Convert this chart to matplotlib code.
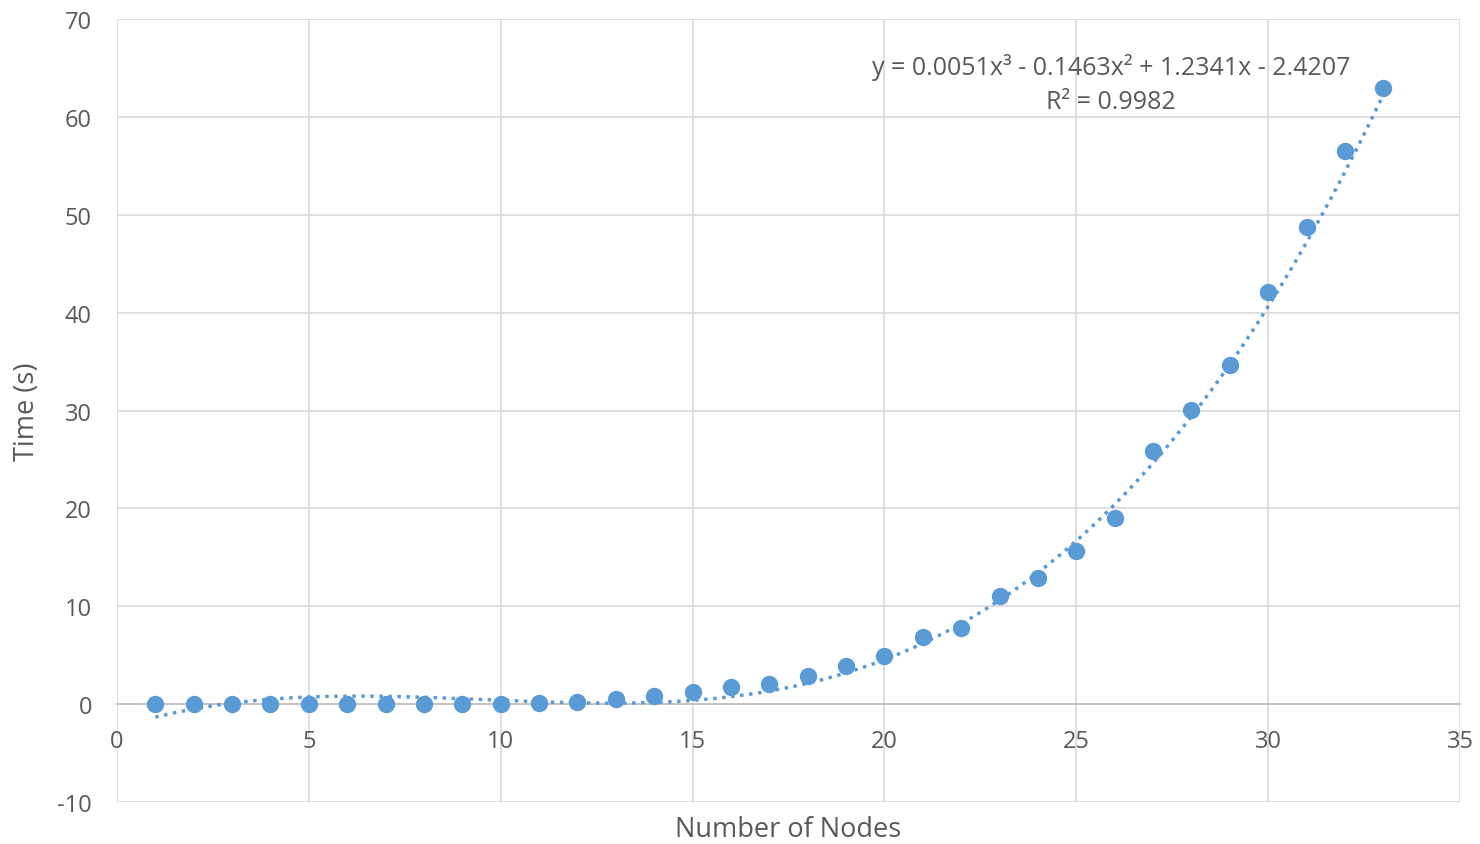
import matplotlib
matplotlib.use("Agg")
import matplotlib.pyplot as plt
import numpy as np

# run time per node count
nodes = list(range(1, 34))
times = [0.0, 0.0, 0.0, 0.0, 0.0, 0.0, 0.0, 0.0, 0.0, 0.0,
         0.1, 0.17, 0.5, 0.8, 1.2, 1.8, 2.1, 2.9, 3.9, 4.9,
         6.9, 7.8, 11.0, 12.9, 15.6, 19.0, 25.9, 30.1, 34.6, 42.1,
         48.7, 56.5, 63.0]

# cubic trendline coefficients (highest power first)
coeffs = [0.0051, -0.1463, 1.2341, -2.4207]
r2 = 0.9982

blue = "#5B9BD5"
grey = "#595959"

plt.rcParams['font.family'] = ['Open Sans', 'DejaVu Sans']
plt.rcParams['font.size'] = 13
plt.rcParams['axes.unicode_minus'] = False

fig = plt.figure(figsize=(14.8, 8.45), dpi=100)
ax = fig.add_axes([0.079, 0.0497, 0.9075, 0.9266])

xs = np.linspace(nodes[0], nodes[-1], 300)
ax.plot(xs, np.polyval(coeffs, xs), linestyle=(0, (1, 1.6)), color=blue, linewidth=2.5, zorder=3)
ax.plot(nodes, times, 'o', color=blue, markersize=11.5, zorder=4)

ax.set_xlim(0, 35)
ax.set_ylim(-10, 70)
ax.set_xticks(range(0, 36, 5))
ax.set_yticks(range(-10, 71, 10))
ax.grid(True, color="#D9D9D9", linewidth=1.2)
ax.set_axisbelow(True)

for s in ['top', 'right', 'left']:
    ax.spines[s].set_visible(False)
ax.spines['bottom'].set_position(('data', 0))
ax.spines['bottom'].set_color("#BFBFBF")
ax.spines['bottom'].set_linewidth(1.2)
ax.tick_params(length=0, colors=grey, labelsize=17)
ax.tick_params(axis='x', pad=18)
ax.tick_params(axis='y', pad=18)

ax.text(-0.067, 0.5, "Time (s)", transform=ax.transAxes, rotation=90,
        ha='center', va='center', color=grey, fontsize=19.5)
ax.text(0.5, -0.0345, "Number of Nodes", transform=ax.transAxes,
        ha='center', va='center', color=grey, fontsize=19.5)

eq = "y = {:.4f}x³ - {:.4f}x² + {:.4f}x - {:.4f}".format(
    coeffs[0], -coeffs[1], coeffs[2], -coeffs[3])
ax.text(25.9, 65.2, eq, ha='center', va='center', color=grey, fontsize=18)
ax.text(25.9, 61.6, "R² = {:.4f}".format(r2), ha='center', va='center', color=grey, fontsize=18)

fig.savefig("out.png", dpi=100)
